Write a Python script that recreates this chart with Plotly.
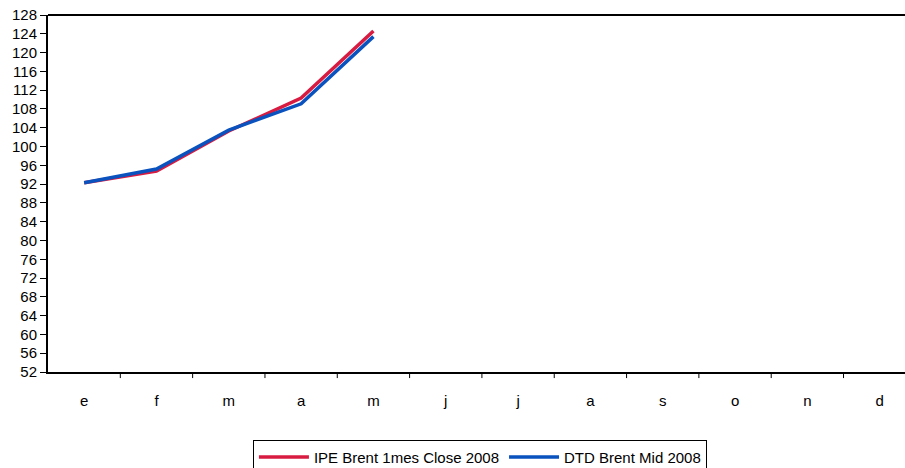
import plotly.graph_objects as go

months = ["e", "f", "m", "a", "m", "j", "j", "a", "s", "o", "n", "d"]
ipe_brent = [92.3, 94.8, 103.3, 110.3, 124.6]
dtd_brent = [92.3, 95.2, 103.5, 109.1, 123.4]
y_ticks = list(range(52, 129, 4))

x_idx = list(range(len(months)))

fig = go.Figure()
fig.add_trace(go.Scatter(x=x_idx[:len(ipe_brent)], y=ipe_brent, mode="lines",
                         name="IPE Brent 1mes Close 2008",
                         line=dict(color="#D81B40", width=3.5)))
fig.add_trace(go.Scatter(x=x_idx[:len(dtd_brent)], y=dtd_brent, mode="lines",
                         name="DTD Brent Mid 2008",
                         line=dict(color="#0A52BE", width=3.5)))

fig.update_layout(
    width=905, height=468,
    margin=dict(l=48, r=0, t=15, b=96, autoexpand=False),
    paper_bgcolor="white", plot_bgcolor="white",
    font=dict(family="Liberation Sans, Arial, sans-serif", size=15, color="black"),
    showlegend=True,
    legend=dict(orientation="h", x=0.504, xanchor="center", y=-0.19, yanchor="top",
                bordercolor="black", borderwidth=1, bgcolor="white",
                font=dict(size=15), itemwidth=50, tracegroupgap=0),
)
fig.update_xaxes(
    range=[-0.5, 11.35], tickmode="array", tickvals=x_idx, ticktext=months,
    showgrid=False, zeroline=False, showline=True, linecolor="black", linewidth=1.5,
    ticks="", ticklabelstandoff=14, automargin=False,
)
fig.update_yaxes(
    range=[52, 128], tickmode="array", tickvals=y_ticks,
    showgrid=False, zeroline=False, showline=True, linecolor="black", linewidth=2,
    ticks="outside", ticklen=6, tickcolor="black", mirror=False, automargin=False,
    tickfont=dict(size=15),
)
# top border
fig.add_shape(type="line", xref="paper", yref="paper", x0=0, x1=1, y0=1, y1=1,
              line=dict(color="black", width=2))
# x boundary ticks
for b in [i + 0.5 for i in range(11)]:
    fig.add_shape(type="line", xref="x", yref="paper", x0=b, x1=b, y0=0, y1=-0.017,
                  line=dict(color="black", width=1))

fig.write_html("out.html", config={"displayModeBar": False},
               post_script="document.body.style.margin='0';document.body.style.padding='0';")
